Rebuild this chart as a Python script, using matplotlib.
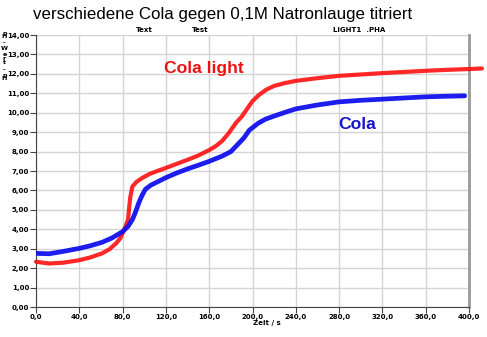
import matplotlib
matplotlib.use("Agg")
import matplotlib.pyplot as plt
from matplotlib.ticker import MultipleLocator, FuncFormatter

# Cola light (red)
t_light = [0, 12, 25, 40, 50, 61, 68, 74, 78, 80, 83, 85, 86, 87, 89, 93, 98, 105, 112,
           120, 130, 141, 150, 160, 166, 172, 178, 185, 190, 195, 200, 206, 213, 220,
           230, 240, 260, 280, 300, 320, 340, 360, 380, 400, 412]
ph_light = [2.33, 2.24, 2.28, 2.41, 2.55, 2.76, 2.98, 3.28, 3.55, 3.8, 4.2, 4.5, 5.1, 5.63,
            6.2, 6.45, 6.64, 6.85, 7.0, 7.16, 7.37, 7.6, 7.8, 8.08, 8.28, 8.55, 8.95, 9.5,
            9.8, 10.2, 10.6, 10.92, 11.2, 11.38, 11.53, 11.64, 11.78, 11.9, 11.97, 12.04,
            12.1, 12.16, 12.21, 12.25, 12.28]

# Cola (blue)
t_cola = [0, 12, 25, 40, 50, 61, 70, 80, 85, 89, 92, 95, 98, 101, 106, 111, 120, 130,
          141, 150, 160, 172, 180, 185, 192, 197, 205, 212, 220, 230, 240, 260, 280, 300,
          320, 340, 360, 380, 396]
ph_cola = [2.76, 2.74, 2.86, 3.02, 3.15, 3.33, 3.55, 3.88, 4.15, 4.5, 4.9, 5.37, 5.75, 6.06,
           6.27, 6.41, 6.66, 6.9, 7.13, 7.3, 7.5, 7.77, 8.0, 8.29, 8.7, 9.1, 9.45, 9.67,
           9.83, 10.02, 10.2, 10.4, 10.56, 10.64, 10.7, 10.76, 10.82, 10.85, 10.87]

fig = plt.figure(figsize=(4.87, 3.37), dpi=100)
ax = fig.add_axes([0.074, 0.089, 0.889, 0.807])

ax.plot(t_light, ph_light, color="#ff1010", lw=3.0, alpha=0.9, solid_capstyle="round",
        clip_on=False, zorder=3)
ax.plot(t_cola, ph_cola, color="#1010ee", lw=3.4, alpha=0.95, solid_capstyle="round",
        zorder=4)

ax.set_xlim(0, 400)
ax.set_ylim(0, 14)
ax.xaxis.set_major_locator(MultipleLocator(40))
ax.yaxis.set_major_locator(MultipleLocator(1))
ax.xaxis.set_major_formatter(FuncFormatter(lambda v, p: f"{v:.1f}".replace(".", ",")))
ax.yaxis.set_major_formatter(FuncFormatter(lambda v, p: f"{v:.2f}".replace(".", ",")))
ax.grid(True, color="#d4d4d4", lw=1.0)
ax.set_axisbelow(True)
ax.tick_params(labelsize=5, length=4, width=0.8, color="#444444", pad=1)
for lab in ax.get_xticklabels() + ax.get_yticklabels():
    lab.set_fontweight("bold")

ax.spines["top"].set_visible(False)
ax.spines["right"].set_color("#999999")
ax.spines["right"].set_linewidth(2)
ax.spines["left"].set_color("#444444")
ax.spines["bottom"].set_color("#444444")

fig.text(0.068, 0.957, "verschiedene Cola gegen 0,1M Natronlauge titriert",
         fontsize=12.2, family="Liberation Sans", ha="left", va="center")
fig.text(0.279, 0.911, "Text", fontsize=5, fontweight="bold", ha="left", va="center")
fig.text(0.394, 0.911, "Test", fontsize=5, fontweight="bold", ha="left", va="center")
fig.text(0.684, 0.911, "LIGHT1  .PHA", fontsize=5, fontweight="bold", ha="left", va="center")
fig.text(0.547, 0.042, "Zeit / s", fontsize=5, fontweight="bold", ha="center", va="center")

ylab = ["p", "H", "-", "W", "e", "r", "t", "-", "p", "H"]
ypos = [33, 37, 43, 48, 54, 59, 63, 70, 75, 79]
for ch, yp in zip(ylab, ypos):
    fig.text(0.009, 1 - yp / 337, ch, fontsize=4.6, fontweight="bold",
             ha="center", va="center")

ax.text(155, 12.3, "Cola light", color="#ee1111", fontsize=12.6, fontweight="bold",
        family="Liberation Sans", ha="center", va="center")
ax.text(297, 9.37, "Cola", color="#1515cc", fontsize=12.6, fontweight="bold",
        family="Liberation Sans", ha="center", va="center")

fig.savefig("out.png", dpi=100)
